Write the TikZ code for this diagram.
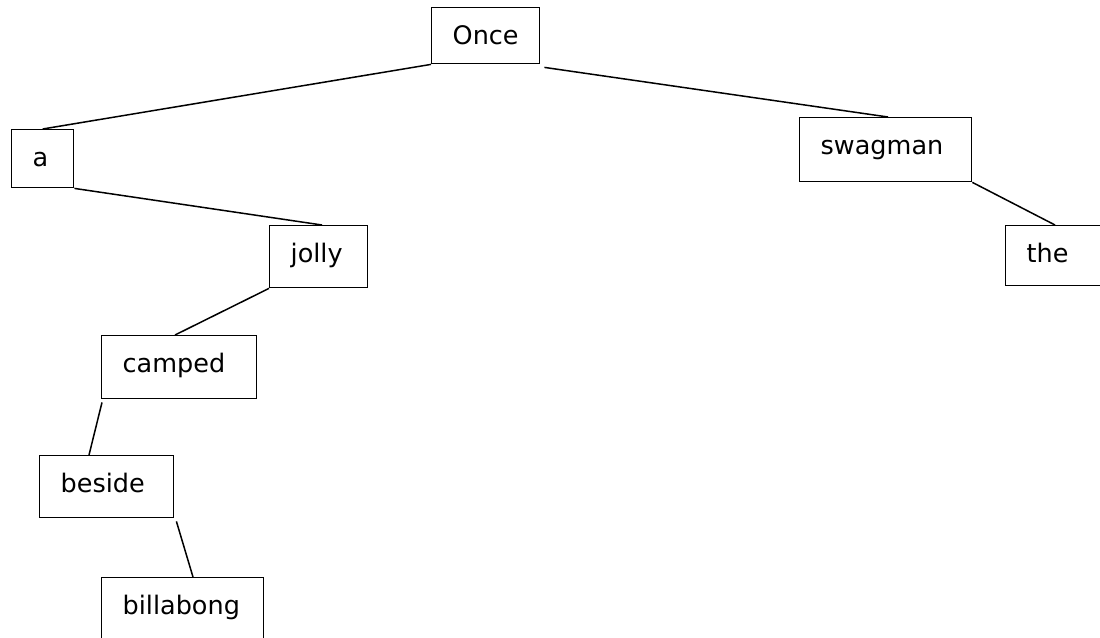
\documentclass[tikz,border=0pt]{standalone}
\usepackage{fontspec}
\setmainfont{DejaVu Sans}
\usetikzlibrary{calc}
\tikzset{
  treebox/.style={draw, line width=1.4pt, anchor=north west, inner xsep=21pt, inner ysep=0pt,
    align=left, text height=37pt, font=\fontsize{25.5}{30}\selectfont},
  edge/.style={line width=1.5pt}
}
\begin{document}
\begin{tikzpicture}[x=1pt,y=-1pt]
\useasboundingbox (0,0) rectangle (1100,637);
\clip (0,0) rectangle (1100,637);
\fill[white] (0,0) rectangle (1100,637);
\node[treebox, text width=66pt,  text depth=19pt] (once)      at (431,7)   {Once};
\node[treebox, text width=20pt,  text depth=21pt] (a)         at (11,129)  {a};
\node[treebox, text width=130pt, text depth=27pt] (swagman)   at (799,117) {swagman};
\node[treebox, text width=56pt,  text depth=25pt] (jolly)     at (269,225) {jolly};
\node[treebox, text width=58pt,  text depth=23pt] (the)       at (1005,225) {the};
\node[treebox, text width=113pt, text depth=26pt] (camped)    at (101,335) {camped};
\node[treebox, text width=92pt,  text depth=25pt] (beside)    at (39,455)  {beside};
\node[treebox, text width=120pt, text depth=27pt] (billabong) at (101,577) {billabong};
\draw[edge] (once.south west) -- (a.north);
\draw[edge] ($(once.south east)+(4,3)$) -- ($(swagman.north west)+(89,0)$);
\draw[edge] (a.south east) -- ($(jolly.north west)+(53,0)$);
\draw[edge] (swagman.south east) -- ($(the.north west)+(50,0)$);
\draw[edge] (jolly.south west) -- ($(camped.north west)+(74,0)$);
\draw[edge] ($(camped.south west)+(1,3)$) -- ($(beside.north west)+(50,0)$);
\draw[edge] ($(beside.south east)+(2,3)$) -- ($(billabong.north west)+(92,0)$);
\end{tikzpicture}
\end{document}
